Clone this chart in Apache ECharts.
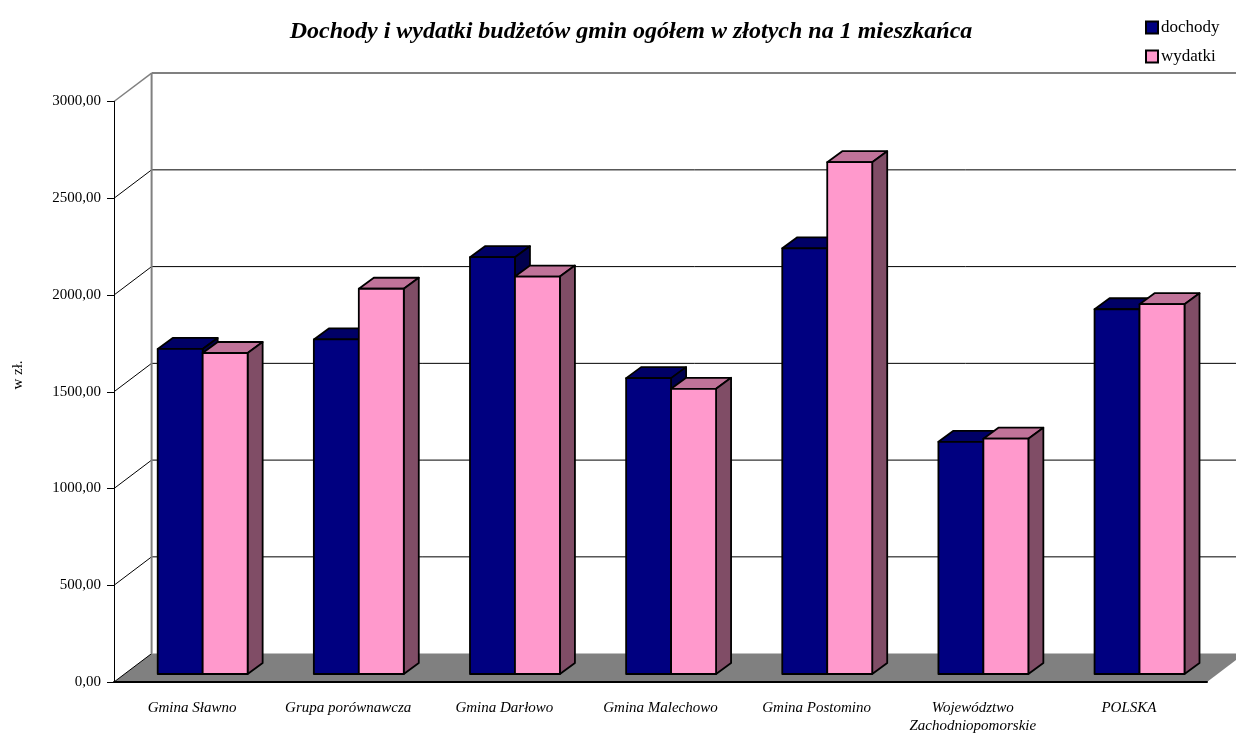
<!DOCTYPE html>
<html>
<head>
<meta charset="utf-8">
<script src="https://cdn.jsdelivr.net/npm/echarts@6/dist/echarts.min.js"></script>
<style>
  html, body { margin: 0; padding: 0; background: #fff; }
  #chart { width: 1236px; height: 735px; }
</style>
</head>
<body>
<div id="chart"></div>
<script>
var categories = ['Gmina Sławno', 'Grupa porównawcza', 'Gmina Darłowo', 'Gmina Malechowo',
  'Gmina Postomino', 'Województwo\nZachodniopomorskie', 'POLSKA'];
var dochody = [1680, 1729, 2154, 1529, 2200, 1200, 1885];
var wydatki = [1659, 1991, 2054, 1474, 2645, 1216, 1911];
var yTicks = [0, 500, 1000, 1500, 2000, 2500, 3000];

var FONT = 'Liberation Serif';
// przesuniecie glebi (sciana tylna)
var DX = 37.6, DY = -28.4;
// polozenie slupkow w glebi
var BX = 10.6, BY = -8, BDX = 15, BDY = -11;

var chart = echarts.init(document.getElementById('chart'));

function wallItem(params, api) {
  var cs = params.coordSys;
  var v = api.value(1);
  var p = api.coord([0, v]);
  var x0 = cs.x, y = p[1];
  var gray = v === 3000;
  var children = [];
  if (v === 0) {
    children.push({
      type: 'polygon',
      shape: { points: [[x0, y], [cs.x + cs.width, y], [cs.x + cs.width + DX, y + DY], [x0 + DX, y + DY]] },
      style: { fill: '#808080', stroke: null }
    });
  }
  if (v === 3000) {
    children.push({
      type: 'line',
      shape: { x1: x0 + DX, y1: y + DY, x2: x0 + DX, y2: api.coord([0, 0])[1] + DY },
      style: { stroke: '#808080', lineWidth: 2 }
    });
  }
  children.push({
    type: 'line',
    shape: { x1: x0, y1: y, x2: x0 + DX, y2: y + DY },
    style: { stroke: gray ? '#808080' : '#000', lineWidth: gray ? 1.5 : 1 }
  });
  if (v !== 0) {
    children.push({
      type: 'line',
      shape: { x1: x0 + DX, y1: y + DY, x2: 1240, y2: y + DY },
      style: { stroke: gray ? '#808080' : '#000', lineWidth: gray ? 2 : 1 }
    });
  }
  return { type: 'group', children: children };
}

function barRenderer(s, front, top, side) {
  return function (params, api) {
    var idx = api.value(0);
    var c = api.coord([idx, api.value(1)]);
    var c0 = api.coord([idx, 0]);
    var w = api.size([1, 0])[0];
    var bw = w * 0.288;
    var l = c[0] - bw + s * bw + BX;
    var r = l + bw;
    var t = c[1] + BY;
    var b = c0[1] + BY;
    var st = { stroke: '#000', lineWidth: 1.8, lineJoin: 'round' };
    return {
      type: 'group',
      children: [
        {
          type: 'polygon',
          shape: { points: [[l, t], [l + BDX, t + BDY], [r + BDX, t + BDY], [r, t]] },
          style: Object.assign({ fill: top }, st)
        },
        {
          type: 'polygon',
          shape: { points: [[r, t], [r + BDX, t + BDY], [r + BDX, b + BDY], [r, b]] },
          style: Object.assign({ fill: side }, st)
        },
        {
          type: 'rect',
          shape: { x: l, y: t, width: bw, height: b - t },
          style: Object.assign({ fill: front }, st)
        }
      ]
    };
  };
}

var option = {
  animation: false,
  title: {
    text: 'Dochody i wydatki budżetów gmin ogółem w złotych na 1 mieszkańca',
    left: 626,
    textAlign: 'center',
    top: 15,
    textStyle: { fontFamily: FONT, fontSize: 24, fontWeight: 'bold', fontStyle: 'italic', color: '#000' }
  },
  legend: {
    orient: 'vertical',
    left: 1140,
    top: 14,
    itemWidth: 12,
    itemHeight: 12,
    itemGap: 12,
    icon: 'rect',
    textStyle: { fontFamily: FONT, fontSize: 17, color: '#000', padding: [0, 0, 0, -2] },
    data: ['dochody', 'wydatki']
  },
  grid: { left: 114, right: 29, top: 101.5, bottom: 47 },
  xAxis: {
    type: 'category',
    data: categories,
    z: 10,
    axisLine: { lineStyle: { color: '#000', width: 2 } },
    axisTick: { length: 10, lineStyle: { color: '#000' } },
    axisLabel: {
      interval: 0, margin: 17, fontFamily: FONT, fontSize: 15, fontStyle: 'italic',
      color: '#000', lineHeight: 18
    }
  },
  yAxis: {
    type: 'value',
    min: 0,
    max: 3000,
    interval: 500,
    z: 10,
    axisLine: { show: true, lineStyle: { color: '#000', width: 1 } },
    axisTick: { show: true, length: 7, lineStyle: { color: '#000' } },
    splitLine: { show: false },
    axisLabel: {
      margin: 13, fontFamily: FONT, fontSize: 15, color: '#000',
      formatter: function (v) { return v.toFixed(2).replace('.', ','); }
    }
  },
  graphic: [{
    type: 'text',
    x: 18,
    y: 375,
    rotation: Math.PI / 2,
    style: { text: 'w zł.', fontFamily: FONT, fontSize: 15, fill: '#000', align: 'center', verticalAlign: 'middle' }
  }],
  series: [
    {
      type: 'custom',
      name: 'walls',
      renderItem: wallItem,
      data: yTicks.map(function (v) { return [0, v]; }),
      encode: { x: 0, y: 1 },
      silent: true
    },
    {
      type: 'custom',
      name: 'dochody',
      renderItem: barRenderer(0, '#000080', '#000066', '#00004d'),
      itemStyle: { color: '#000080', borderColor: '#000', borderWidth: 1 },
      data: dochody.map(function (v, i) { return [i, v]; }),
      encode: { x: 0, y: 1 }
    },
    {
      type: 'custom',
      name: 'wydatki',
      renderItem: barRenderer(1, '#ff99cc', '#c07399', '#804d66'),
      itemStyle: { color: '#ff99cc', borderColor: '#000', borderWidth: 1 },
      data: wydatki.map(function (v, i) { return [i, v]; }),
      encode: { x: 0, y: 1 }
    }
  ]
};

chart.setOption(option);
</script>
</body>
</html>
